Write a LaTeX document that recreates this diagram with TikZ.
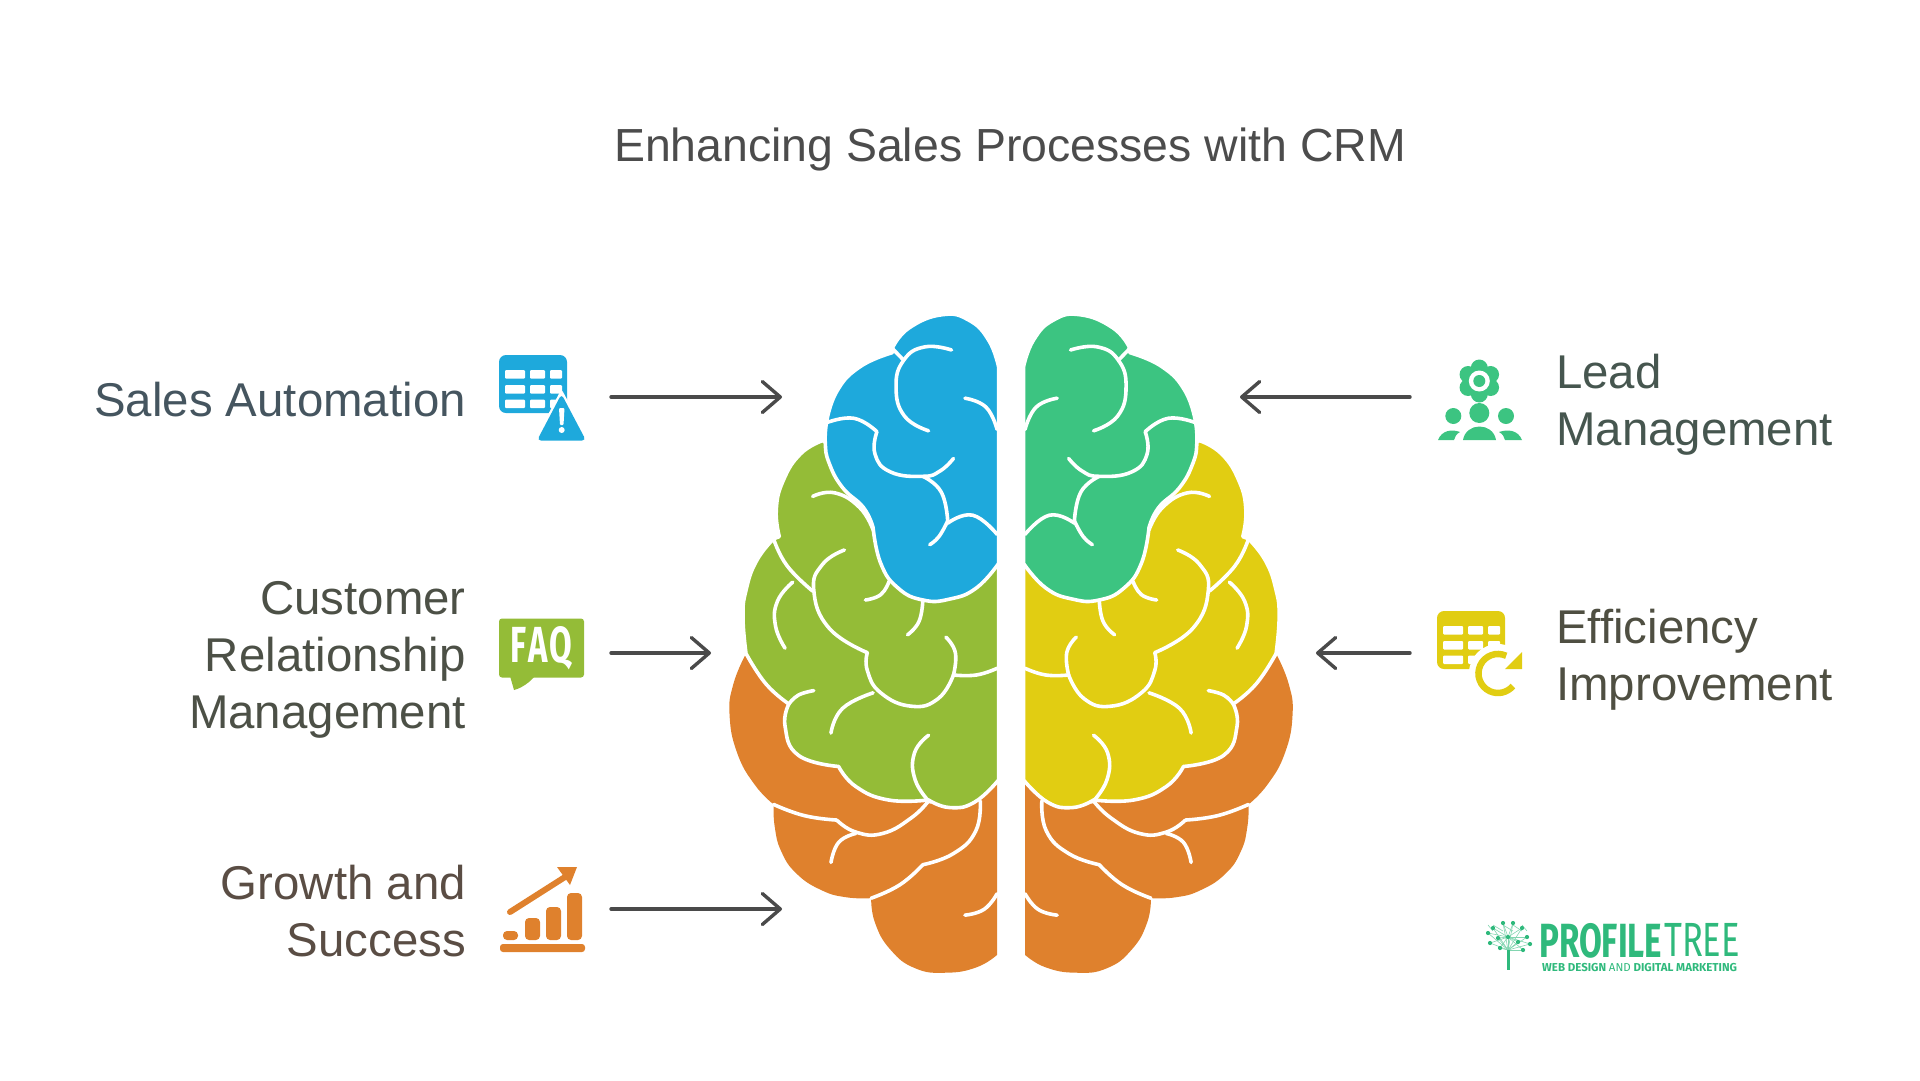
\documentclass[tikz,border=0pt]{standalone}
\usepackage{fontspec}
\setmainfont{Liberation Sans}
\newfontfamily\logofont{Fira Sans}
\usetikzlibrary{arrows.meta}
\definecolor{skyblue}{HTML}{1EA9DC}
\definecolor{leafgreen}{HTML}{94BC37}
\definecolor{brainorange}{HTML}{DF812D}
\definecolor{teal}{HTML}{3CC481}
\definecolor{mustard}{HTML}{E1CD12}
\definecolor{logogreen}{HTML}{2FB97C}
\definecolor{arrowgrey}{HTML}{4A4A4A}
\definecolor{salesink}{HTML}{45555F}
\definecolor{customerink}{HTML}{4C5046}
\definecolor{growthink}{HTML}{5A4D44}
\definecolor{leadink}{HTML}{46564F}
\definecolor{efficiencyink}{HTML}{4F4F42}
\tikzset{
  every plot/.style={tension=.8},
  titletext/.style={inner sep=0pt,text=#1,font=\fontsize{46.4}{57}\selectfont},
  leftlabel/.style={titletext=#1,anchor=east,align=right,font=\fontsize{47.4}{57}\selectfont},
  rightlabel/.style={titletext=#1,anchor=west,align=left,font=\fontsize{47.4}{57}\selectfont},
  logotext/.style={inner sep=0pt,text=logogreen,anchor=north west,transform shape},
  linkarrow/.style={draw=arrowgrey,line width=3.4pt,line cap=round,
    -{Straight Barb[length=18pt,width=31pt,round]}},
  brainline/.style={draw=white,line width=3.6pt,line cap=round,line join=round},
  lobe/.style={fill=#1,draw=white,line width=3.6pt,line join=round},
  cell/.style={fill=white,rounded corners=1pt},
}
\newcommand\seam[1]{\draw[brainline] plot[smooth] coordinates {#1};}
\newcommand\halfbrain[2]{
  \fill[brainorange] (724,1060) -- (724,1467)
    -- plot[smooth] coordinates {(724,1467) (670,1495) (590,1507) (510,1497) (445,1455) (405,1395) (395,1340)}
    -- plot[smooth] coordinates {(395,1340) (330,1338) (265,1322) (200,1285) (160,1235) (143,1180) (140,1130)}
    -- plot[smooth] coordinates {(140,1130) (90,1085) (45,1015) (25,930) (35,860) (68,792)} -- cycle;
  \filldraw[lobe=#2] (728,500) -- (268,315)
    -- plot[smooth] coordinates {(268,315) (210,345) (165,405) (147,470) (155,530)}
    -- plot[smooth] coordinates {(140,535) (95,585) (68,650) (60,710) (68,792)}
    -- plot[smooth] coordinates {(68,792) (120,860) (180,905)}
    -- plot[smooth] coordinates {(180,905) (170,955) (205,1020) (310,1045)}
    -- plot[smooth] coordinates {(310,1045) (355,1090) (440,1120) (545,1120)}
    -- plot[smooth] coordinates {(545,1120) (600,1137) (665,1125) (728,1075)} -- cycle;
  \filldraw[lobe=#1] (728,150) -- (728,590)
    -- plot[smooth] coordinates {(728,590) (670,645) (600,670) (530,672) (465,645) (420,590) (400,510)}
    -- plot[smooth] coordinates {(400,510) (375,465) (320,420) (285,365) (275,320) (278,275)}
    -- plot[smooth] coordinates {(278,275) (305,205) (365,150) (450,118)}
    -- plot[smooth] coordinates {(452,105) (495,62) (580,33) (650,45) (702,90) (728,150)} -- cycle;
  \seam{(140,535) (175,595) (242,652)}
  \seam{(325,560) (268,592) (245,650) (285,735) (385,790)}
  \seam{(385,790) (385,830) (420,880) (500,910) (570,893) (610,840)}
  \seam{(724,825) (670,840) (610,840)}
  \seam{(610,840) (615,790) (590,755)}
  \seam{(190,632) (150,675) (145,730) (170,780)}
  \seam{(242,440) (300,432) (365,465) (400,515)}
  \seam{(380,672) (420,660) (442,630)}
  \seam{(490,750) (520,720) (530,672)}
  \seam{(245,875) (205,885) (180,905)}
  \seam{(290,970) (320,915) (400,880)}
  \seam{(545,975) (508,1015) (510,1075) (548,1125)}
  \seam{(452,110) (480,135)}
  \seam{(605,112) (535,105) (480,135) (460,195) (482,260) (545,293)}
  \seam{(640,220) (695,240) (724,290)}
  \seam{(278,275) (350,265) (410,295)}
  \seam{(410,295) (405,345) (445,385) (530,395) (575,383) (610,355)}
  \seam{(530,395) (578,430) (595,495)}
  \seam{(595,495) (572,530) (548,548)}
  \seam{(595,500) (660,482) (724,525)}
  \seam{(140,1130) (220,1155) (305,1165)}
  \seam{(305,1165) (355,1192) (425,1195) (500,1160) (545,1122)}
  \seam{(355,1195) (310,1215) (290,1260)}
  \seam{(680,1122) (668,1190) (610,1240) (530,1265)}
  \seam{(530,1265) (470,1310) (395,1340)}
  \seam{(724,1330) (690,1365) (640,1378)}
}
\newcommand\tableicon[3]{
  \fill[#3,rounded corners=7pt] (#1,#2) rectangle ++(68,58);
  \foreach \rowy in {15,30,44.5}
    \foreach \colx/\colw in {6/20,31/15,51/12}
      \fill[cell] (#1+\colx,#2+\rowy) rectangle ++(\colw,8.5);
}
\begin{document}
\begin{tikzpicture}[x=1pt,y=-1pt]
  \useasboundingbox (0,0) rectangle (1920,1080);
  \node[titletext=black!70] (title) at (1010,149) {Enhancing Sales Processes with CRM};

  \begin{scope}[shift={(720pt,-300pt)},x=.3827pt,y=-.4464pt]
    \halfbrain{skyblue}{leafgreen}
  \end{scope}
  \begin{scope}[shift={(1302.1pt,-300pt)},x=-.3827pt,y=-.4464pt]
    \halfbrain{teal}{mustard}
  \end{scope}

  \node[leftlabel=salesink] (salestext) at (466,400) {Sales Automation};
  \node[leftlabel=customerink] (customertext) at (466,660) {Customer\\Relationship\\Management};
  \node[leftlabel=growthink] (growthtext) at (466,911) {Growth and\\Success};
  \node[rightlabel=leadink] (leadtext) at (1556,405) {Lead\\Management};
  \node[rightlabel=efficiencyink] (efficiencytext) at (1556,660) {Efficiency\\Improvement};

  \coordinate (salesfrom) at (611,397);
  \coordinate (salesto) at (782,397);
  \coordinate (customerfrom) at (611,653);
  \coordinate (customerto) at (711,653);
  \coordinate (growthfrom) at (611,909);
  \coordinate (growthto) at (782,909);
  \coordinate (leadfrom) at (1410,397);
  \coordinate (leadto) at (1240,397);
  \coordinate (efficiencyfrom) at (1410,653);
  \coordinate (efficiencyto) at (1316,653);
  \draw[linkarrow] (salesfrom) -- (salesto);
  \draw[linkarrow] (customerfrom) -- (customerto);
  \draw[linkarrow] (growthfrom) -- (growthto);
  \draw[linkarrow] (leadfrom) -- (leadto);
  \draw[linkarrow] (efficiencyfrom) -- (efficiencyto);

  \tableicon{499}{355}{skyblue}
  \fill[white,rounded corners=3pt] (561.5,389) -- (590,443) -- (533,443) -- cycle;
  \fill[skyblue,rounded corners=4pt] (561.5,394) -- (586,440.5) -- (537,440.5) -- cycle;
  \fill[white,rounded corners=1pt] (559,408) -- (564.5,408) -- (563.5,425) -- (560,425) -- cycle;
  \fill[white] (561.7,430) circle (3);

  \node[fill=leafgreen,rounded corners=3pt,inner sep=0pt,minimum width=85pt,minimum height=59pt,text=white]
    (faqicon) at (541.5,648) {\logofont\bfseries\resizebox{62pt}{36pt}{F\kern.06em A\kern.06em Q}};
  \fill[leafgreen] (510,676) -- (514,690) .. controls (522,688) and (530,682) .. (535,676) -- cycle;

  \fill[brainorange,rounded corners=3pt] (500,944) rectangle (585,952);
  \foreach \barx/\bary in {503/931,525/918,546/907,567/893}
    \fill[brainorange,rounded corners=4pt] (\barx,\bary) rectangle (\barx+15,940);
  \draw[brainorange,line width=6pt,line cap=round] (510,912) -- (565,877);
  \fill[brainorange] (577,867) -- (570,885) -- (557,867) -- cycle;

  \foreach \petal in {90,30,...,-210}
    \fill[teal] (1479.3,381) ++(\petal:13) circle (8.5);
  \fill[teal] (1479.3,381) circle (13);
  \fill[white] (1479.3,381) circle (10.5);
  \fill[teal] (1479.3,381) circle (6);
  \fill[teal] (1479.3,413) circle (10) (1453.3,416) circle (8) (1506,416) circle (8);
  \fill[teal] (1463,440) .. controls (1466,422) and (1493,422) .. (1496,440) -- cycle;
  \fill[teal] (1438,440) .. controls (1442,430) and (1452,429) .. (1460,432) .. controls (1456,434) and (1455,437) .. (1454,440) -- cycle;
  \fill[teal] (1522,440) .. controls (1518,430) and (1508,429) .. (1499,432) .. controls (1503,434) and (1504,437) .. (1505,440) -- cycle;

  \tableicon{1437}{611}{mustard}
  \fill[white] (1498,673) circle (29);
  \draw[mustard,line width=6.5pt] (1506.2,655.8) arc (-65:-320:19.5);
  \fill[mustard] (1522,652) -- (1522,669) -- (1505,669) -- cycle;

  \foreach \linkfrom/\linkto in {1503/1513,1493/1503,1513/1522,1488/1493,1522/1527}
    \draw[logogreen!60,line width=.6pt] (\linkfrom,925) -- (\linkto,931);
  \foreach \dotx/\doty in {1503/923,1513/923,1493/928,1522/928,1488/933,1498/938,1508/937,1527/937,1490/943,1518/942,1530/944,1500/948,1523/950}{
    \draw[logogreen!60,line width=.6pt] (1508,950) -- (\dotx,\doty);
    \draw[logogreen!60,line width=.6pt] (1508,937) -- (\dotx,\doty);
  }
  \foreach \dotx/\doty in {1503/923,1513/923,1493/928,1522/928,1488/933,1498/938,1508/937,1527/937,1490/943,1518/942,1530/944,1500/948,1523/950}
    \fill[logogreen] (\dotx,\doty) circle (2.1);
  \fill[logogreen] (1506.5,950) rectangle (1510,970);
  \node[logotext,xscale=.69] (logoprofile) at (1539,923) {\logofont\bfseries\fontsize{48}{48}\selectfont PROFILE};
  \node[logotext,xscale=.72] (logotree) at (1664,923) {\logofont\fontseries{l}\fontsize{48}{48}\selectfont TREE};
  \node[logotext,font=\logofont\bfseries\fontsize{11.5}{12}\selectfont] (logotag) at (1542,963.5) {WEB DESIGN {\fontseries{l}\selectfont AND} DIGITAL MARKETING};
\end{tikzpicture}
\end{document}
